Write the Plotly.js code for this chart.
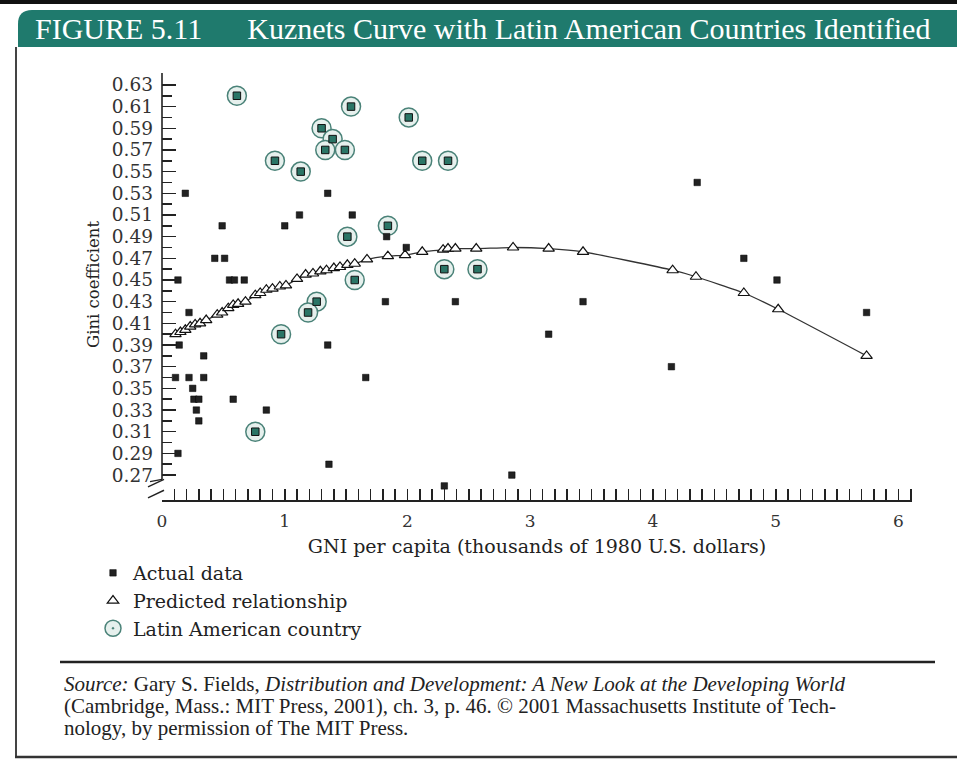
<!DOCTYPE html>
<html>
<head>
<meta charset="utf-8">
<script src="https://cdn.plot.ly/plotly-3.0.1.min.js"></script>
<style>html,body{margin:0;padding:0;background:#fff;}#chart{width:957px;height:760px;}</style>
</head>
<body>
<div id="chart"></div>
<script>
// ---- Data ----
// Actual data (non-Latin American countries): GNI per capita (thousand 1980 US$), Gini
var actualX = [0.19,0.49,0.43,0.51,0.13,0.55,0.59,0.67,0.22,0.14,0.34,0.11,0.22,0.34,0.25,0.26,0.30,0.28,0.30,0.58,0.85,0.13,
               1.35,1.12,1.55,1.00,1.83,1.99,1.82,2.39,1.35,1.66,1.36,2.30,2.85,4.36,4.74,5.01,5.74,3.43,3.15,4.15];
var actualY = [0.53,0.50,0.47,0.47,0.45,0.45,0.45,0.45,0.42,0.39,0.38,0.36,0.36,0.36,0.35,0.34,0.34,0.33,0.32,0.34,0.33,0.29,
               0.53,0.51,0.51,0.50,0.49,0.48,0.43,0.43,0.39,0.36,0.28,0.26,0.27,0.54,0.47,0.45,0.42,0.43,0.40,0.37];
// Latin American countries
var latinX = [0.61,0.92,1.54,2.01,1.30,1.39,1.33,1.49,2.12,2.33,1.13,1.84,1.51,1.57,2.30,2.57,1.26,1.19,0.97,0.76];
var latinY = [0.62,0.56,0.61,0.60,0.59,0.58,0.57,0.57,0.56,0.56,0.55,0.50,0.49,0.45,0.46,0.46,0.43,0.42,0.40,0.31];
// Predicted relationship (triangles)
var predX = [0.11,0.15,0.19,0.23,0.27,0.31,0.36,0.45,0.49,0.54,0.58,0.62,0.68,0.76,0.80,0.85,0.90,0.96,1.01,1.10,1.17,1.23,
             1.29,1.34,1.40,1.45,1.51,1.57,1.67,1.84,1.98,2.12,2.29,2.33,2.39,2.56,2.86,3.15,3.43,4.16,4.35,4.74,5.02,5.74];
var predY = [0.400,0.402,0.404,0.407,0.409,0.410,0.413,0.418,0.420,0.424,0.427,0.428,0.430,0.436,0.438,0.441,0.442,0.444,0.445,0.451,0.455,0.456,
             0.458,0.459,0.461,0.462,0.464,0.465,0.469,0.472,0.473,0.476,0.478,0.479,0.479,0.479,0.480,0.479,0.476,0.459,0.453,0.438,0.423,0.380];
// Tick labels
var yTickVals = [0.27,0.29,0.31,0.33,0.35,0.37,0.39,0.41,0.43,0.45,0.47,0.49,0.51,0.53,0.55,0.57,0.59,0.61,0.63];
var yMinorVals = [0.28,0.30,0.32,0.34,0.36,0.38,0.40,0.42,0.44,0.46,0.48,0.50,0.52,0.54,0.56,0.58,0.60,0.62];
var xTickVals = [0,1,2,3,4,5,6];
// Source note lines
var sourceLines = [
  '<i>Source:</i> Gary S. Fields, <i>Distribution and Development: A New Look at the Developing World</i>',
  '(Cambridge, Mass.: MIT Press, 2001), ch. 3, p. 46. \u00a9 2001 Massachusetts Institute of Tech-',
  'nology, by permission of The MIT Press.'
];

// ---- Page geometry helpers (plot area: px 162..912, 73..500) ----
var L = 162, R = 912, T = 73, B = 500;
function PX(px){ return (px - L) / (R - L); }
function PY(py){ return (B - py) / (B - T); }

var serif = 'DejaVu Serif, serif';
var bookSerif = 'Liberation Serif, Times New Roman, serif';

var traces = [
  {x: predX, y: predY, mode: 'lines', line: {color: '#333', width: 1.3, shape: 'spline', smoothing: 0.5},
   showlegend: false, hoverinfo: 'skip'},
  {x: latinX, y: latinY, mode: 'markers', name: 'Latin American country', legendrank: 3,
   marker: {symbol: 'circle-dot', size: 19, color: '#e6f0ed', line: {color: '#4a8278', width: 1.5}}},
  {x: latinX, y: latinY, mode: 'markers', showlegend: false,
   marker: {symbol: 'square', size: 7.5, color: '#2a7566', line: {color: '#111', width: 1}}},
  {x: predX, y: predY, mode: 'markers', name: 'Predicted relationship', legendrank: 2,
   marker: {symbol: 'triangle-up', size: 10, color: '#fff', line: {color: '#111', width: 1.2}}},
  {x: actualX, y: actualY, mode: 'markers', name: 'Actual data', legendrank: 1,
   marker: {symbol: 'square', size: 6.5, color: '#222', line: {color: '#000', width: 0.5}}}
];

var shapes = [
  {type: 'rect', xref: 'paper', yref: 'paper', x0: PX(0), x1: PX(957), y0: PY(4), y1: PY(0), fillcolor: '#111', line: {width: 0}, layer: 'below'},
  {type: 'path', xref: 'paper', yref: 'paper', layer: 'below', fillcolor: '#1f7a6d', line: {width: 0},
   path: 'M ' + PX(18) + ',' + PY(47) + ' L ' + PX(18) + ',' + PY(24) + ' Q ' + PX(18) + ',' + PY(10) + ' ' + PX(32) + ',' + PY(10) +
         ' L ' + PX(957) + ',' + PY(10) + ' L ' + PX(957) + ',' + PY(47) + ' Z'},
  {type: 'line', xref: 'paper', yref: 'paper', x0: PX(16), x1: PX(16), y0: PY(47), y1: PY(757), line: {color: '#444', width: 2}},
  {type: 'line', xref: 'paper', yref: 'paper', x0: PX(15), x1: PX(957), y0: PY(757), y1: PY(757), line: {color: '#333', width: 2.5}},
  {type: 'line', xref: 'paper', yref: 'paper', x0: PX(60), x1: PX(935), y0: PY(662), y1: PY(662), line: {color: '#222', width: 2.5}},
  {type: 'line', xref: 'paper', yref: 'y', x0: 0, x1: 0, y0: 0.266, y1: 0.641, line: {color: '#222', width: 1.6}},
  {type: 'line', xref: 'paper', yref: 'y', x0: 0, x1: PX(150), y0: 0.266, y1: 0.264, line: {color: '#222', width: 1.4}},
  {type: 'line', xref: 'paper', yref: 'y', x0: PX(148), x1: PX(164), y0: 0.259, y1: 0.266, line: {color: '#222', width: 1.4}},
  {type: 'line', xref: 'paper', yref: 'y', x0: PX(148), x1: PX(164), y0: 0.249, y1: 0.256, line: {color: '#222', width: 1.4}}
];

var sourceY = [684, 706, 728];
var annotations = sourceLines.map(function(t, i){
  return {xref: 'paper', yref: 'paper', x: PX(62), y: PY(sourceY[i]), xanchor: 'left', yanchor: 'middle', align: 'left',
          showarrow: false, font: {family: bookSerif, size: 21, color: '#222'}, text: t};
});
// y-axis title
annotations.push({xref: 'paper', yref: 'paper', x: PX(93), y: PY(285), xanchor: 'center', yanchor: 'middle',
                  textangle: -90, showarrow: false, text: 'Gini coefficient',
                  font: {family: serif, size: 16.5, color: '#222'}});

var layout = {
  width: 957, height: 760,
  paper_bgcolor: '#fff', plot_bgcolor: '#fff',
  margin: {l: L, r: 957 - R, t: T, b: 760 - B, autoexpand: false},
  title: {text: 'FIGURE 5.11&nbsp;&nbsp;&nbsp;&nbsp;&nbsp;&nbsp;Kuznets Curve with Latin American Countries Identified',
          xref: 'container', yref: 'container', x: 35 / 957, xanchor: 'left', y: 1 - 28 / 760, yanchor: 'middle',
          font: {family: bookSerif, size: 30, color: '#fff'}},
  xaxis: {range: [0, 6.11], tickmode: 'array', tickvals: xTickVals, ticktext: xTickVals.map(String), automargin: false,
          ticks: 'inside', ticklen: 11, tickwidth: 1.5, tickcolor: '#222',
          minor: {dtick: 0.1, tick0: 0, ticks: 'inside', ticklen: 11, tickwidth: 1.5, tickcolor: '#222'},
          showline: true, linecolor: '#222', linewidth: 1.6, showgrid: false, zeroline: false,
          ticklabelstandoff: 5,
          tickfont: {family: serif, size: 17, color: '#333'},
          title: {text: 'GNI per capita (thousands of 1980 U.S. dollars)', standoff: 9, font: {family: serif, size: 19, color: '#222'}}},
  yaxis: {range: [0.247, 0.641], tickmode: 'array', tickvals: yTickVals, ticktext: yTickVals.map(function(v){return v.toFixed(2);}), automargin: false,
          ticks: 'inside', ticklen: 14, tickwidth: 1.5, tickcolor: '#222',
          minor: {tickmode: 'array', tickvals: yMinorVals, ticks: 'inside', ticklen: 10, tickwidth: 1.5, tickcolor: '#222'},
          showline: false, showgrid: false, zeroline: false,
          ticklabelstandoff: 8,
          tickfont: {family: serif, size: 18.5, color: '#333'}},
  legend: {xref: 'container', yref: 'container', x: 93 / 957, y: 1 - 554 / 760, xanchor: 'left', yanchor: 'top',
           font: {family: serif, size: 19, color: '#222'}, bgcolor: 'rgba(0,0,0,0)', tracegroupgap: 0},
  shapes: shapes,
  annotations: annotations
};

Plotly.newPlot('chart', traces, layout, {displayModeBar: false, staticPlot: true});
</script>
</body>
</html>
